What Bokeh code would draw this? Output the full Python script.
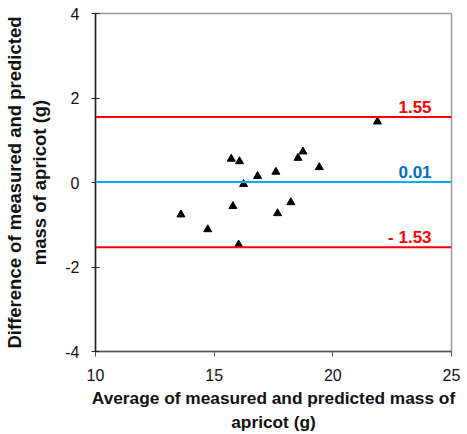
from bokeh.plotting import figure
from bokeh.models import Range1d, FixedTicker, Label, Span, PrintfTickFormatter
from bokeh.embed import file_html
from bokeh.resources import INLINE

# Data
avg_mass = [21.88, 15.72, 16.07, 18.74, 18.53, 19.43, 17.60, 16.83, 16.24,
            18.23, 15.79, 17.67, 13.60, 14.73, 16.03]
diff_mass = [1.44, 0.56, 0.50, 0.73, 0.58, 0.36, 0.25, 0.15, -0.04,
             -0.47, -0.56, -0.73, -0.76, -1.11, -1.47]
limit_values = [1.55, 0.01, -1.53]
limit_texts = ["1.55", "0.01", "- 1.53"]
limit_line_colors = ["#FF0000", "#00B0F0", "#FF0000"]
limit_text_colors = ["#FF0000", "#0070C0", "#FF0000"]
x_ticks = [10, 15, 20, 25]
y_ticks = [-4, -2, 0, 2, 4]

FONT = "Liberation Sans"

p = figure(width=467, height=434, output_backend="svg", toolbar_location=None,
           x_range=Range1d(10, 25), y_range=Range1d(-4, 4),
           min_border_left=95, min_border_right=16, min_border_top=13,
           min_border_bottom=83)
p.background_fill_color = "white"
p.border_fill_color = "white"
p.outline_line_color = "#9a9a9a"
p.outline_line_width = 1.5
p.xgrid.visible = False
p.ygrid.visible = False

for ax, ticks in ((p.xaxis[0], x_ticks), (p.yaxis[0], y_ticks)):
    ax.ticker = FixedTicker(ticks=ticks)
    ax.formatter = PrintfTickFormatter(format="%d")
    ax.minor_tick_line_color = None
    ax.major_label_text_font = FONT
    ax.major_label_text_font_size = "16px"
    ax.major_label_text_color = "#111111"
    ax.axis_label_text_font = FONT
    ax.axis_label_text_font_style = "bold"
    ax.axis_label_text_color = "#111111"

p.xaxis[0].axis_label_text_font_size = "17.3px"
p.yaxis[0].axis_label_text_font_size = "18.5px"

p.yaxis[0].axis_line_color = "#222222"
p.yaxis[0].major_tick_line_color = "#222222"
p.xaxis[0].axis_line_color = "#555555"
p.xaxis[0].major_tick_line_color = "#555555"
p.yaxis[0].axis_line_width = 1.5
p.xaxis[0].axis_line_width = 1.5

p.yaxis[0].major_tick_in = 4
p.yaxis[0].major_tick_out = 4
p.xaxis[0].major_tick_in = 0
p.xaxis[0].major_tick_out = 5

p.xaxis[0].axis_label = "Average of measured and predicted mass of\napricot (g)"
p.yaxis[0].axis_label = "Difference of measured and predicted\nmass of apricot (g)"
p.xaxis[0].major_label_standoff = 12
p.yaxis[0].major_label_standoff = 12
p.xaxis[0].axis_label_standoff = 4
p.yaxis[0].axis_label_standoff = 12

for v, t, lc, tc in zip(limit_values, limit_texts, limit_line_colors, limit_text_colors):
    p.add_layout(Span(location=v, dimension="width", line_color=lc, line_width=2))
    p.add_layout(Label(x=24.16, y=v, text=t, text_align="right",
                       text_baseline="alphabetic", y_offset=10,
                       text_font=FONT, text_font_size="17px",
                       text_font_style="bold", text_color=tc))

p.scatter(avg_mass, diff_mass, marker="triangle", size=8,
          fill_color="black", line_color="black")

open("out.html", "w").write(file_html(p, INLINE))
